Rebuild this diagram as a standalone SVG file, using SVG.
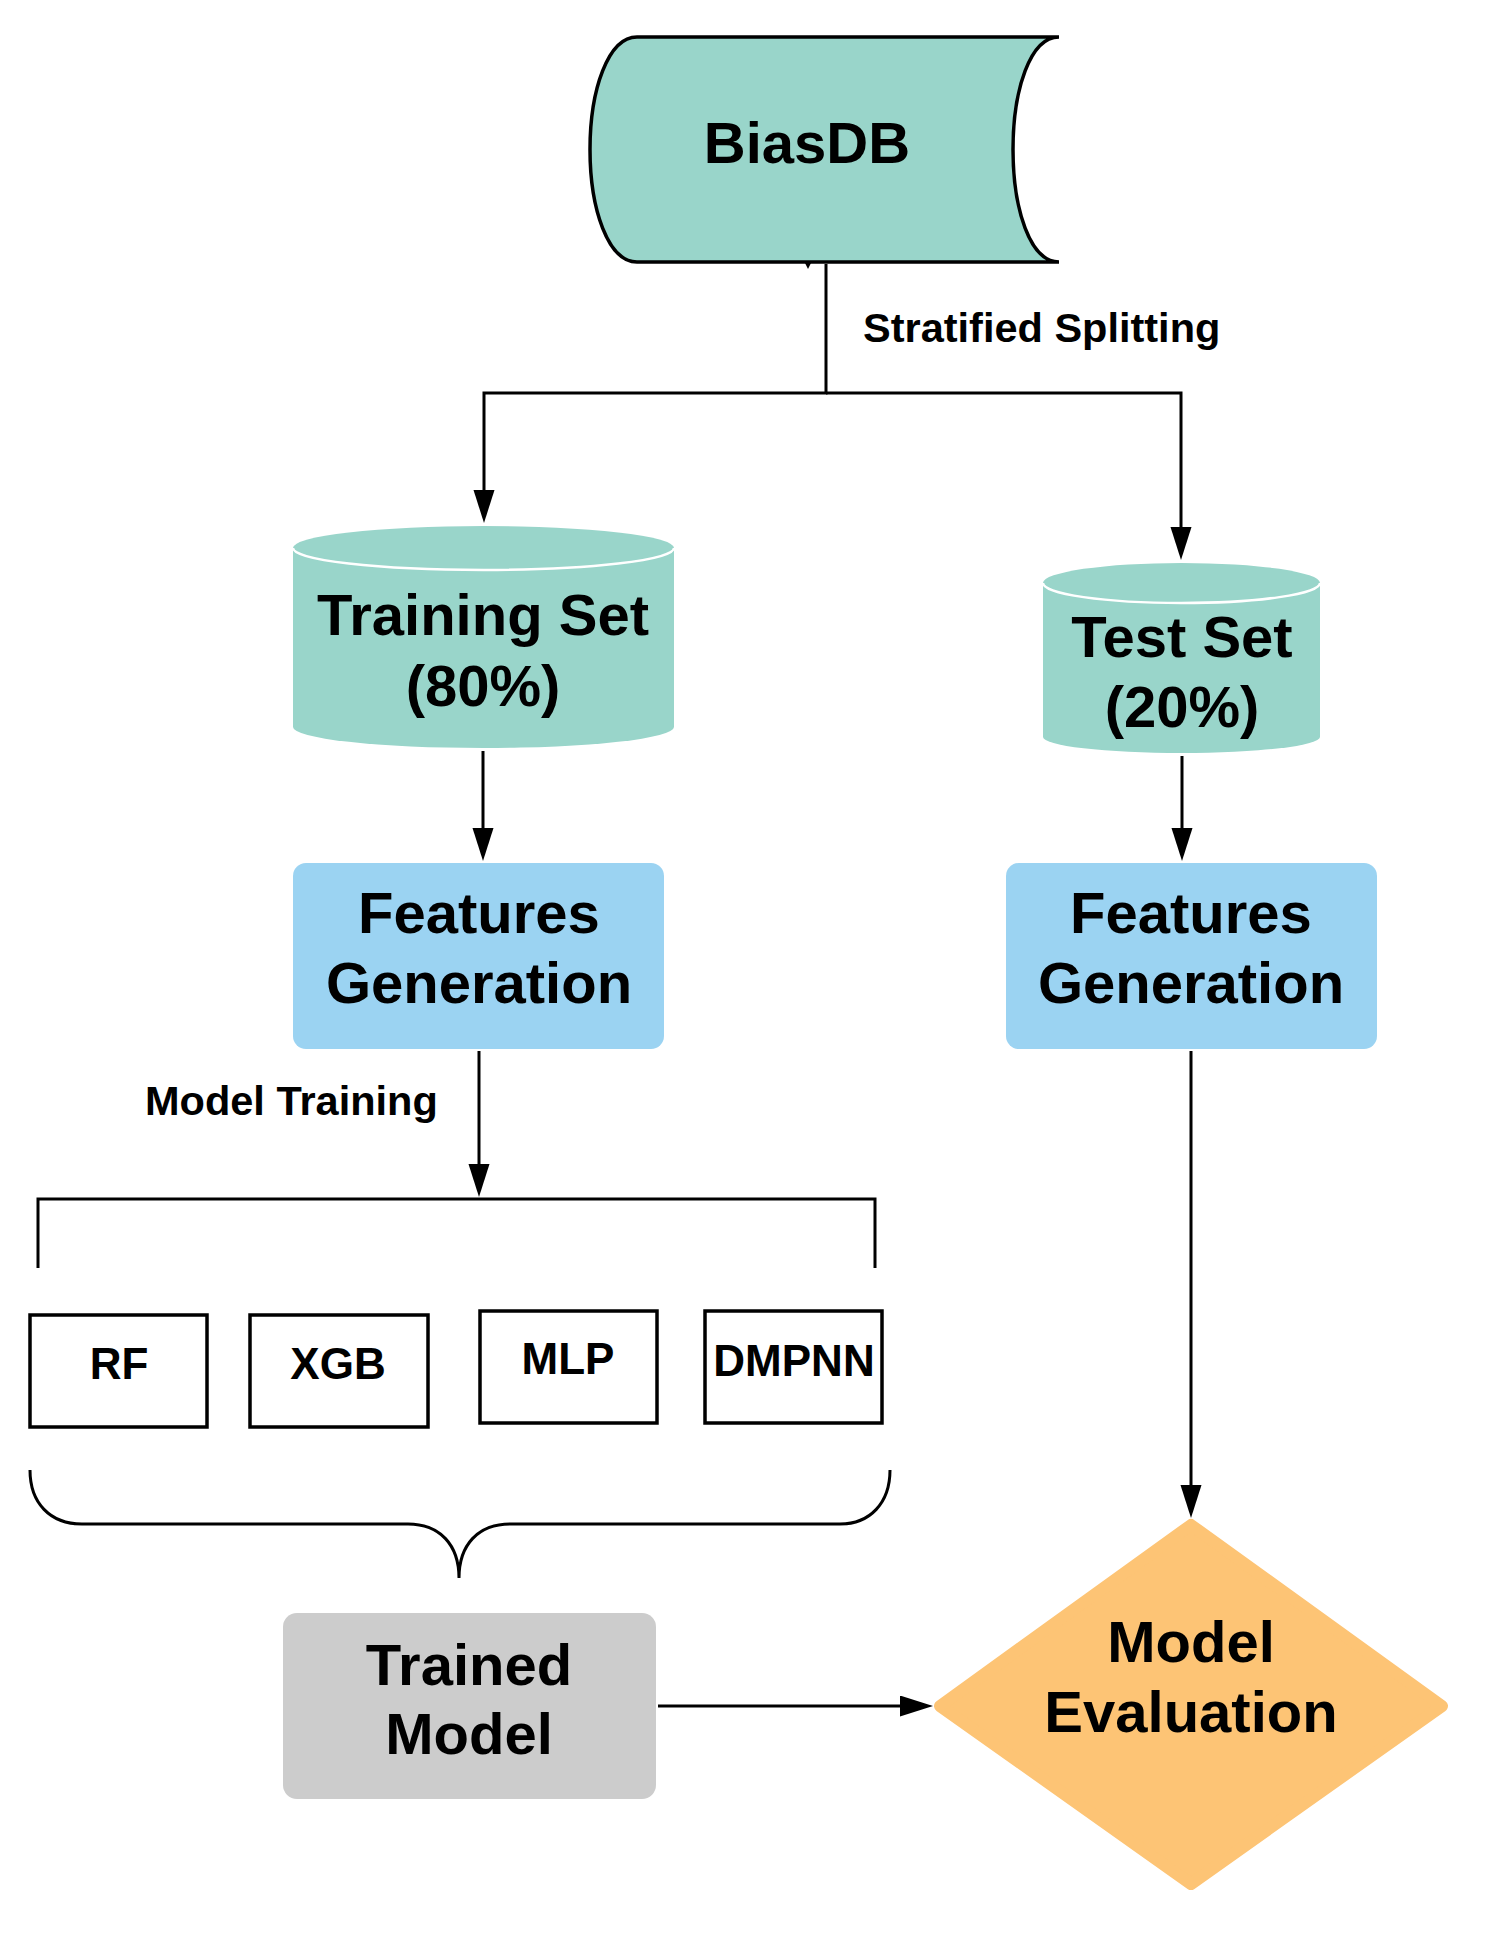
<svg xmlns="http://www.w3.org/2000/svg" width="1487" height="1937" viewBox="0 0 1487 1937">
  <defs>
    <style>
      .t { font-family: "Liberation Sans", Arial, sans-serif; font-weight: bold; fill: #000; text-anchor: middle; }
      .big { font-size: 58px; }
      .mid { font-size: 44px; }
      .lbl { font-size: 41.5px; text-anchor: start; }
      .conn { fill: none; stroke: #000; stroke-width: 3; }
      .box { fill: #fff; stroke: #000; stroke-width: 3.5; }
      .teal { fill: #99D5CA; }
    </style>
    <marker id="ah" markerUnits="userSpaceOnUse" markerWidth="34" markerHeight="22" refX="24" refY="10.5" orient="auto">
      <path d="M0,0 L33,10.5 L0,21 Z" fill="#000"/>
    </marker>
  </defs>
  <rect width="1487" height="1937" fill="#fff"/>

  <g id="connectors">
    <path class="conn" d="M 826 264 V 393 H 484 V 514" marker-end="url(#ah)"/>
    <path class="conn" d="M 826 393 H 1181 V 551" marker-end="url(#ah)"/>
    <path class="conn" d="M 483 751 V 852" marker-end="url(#ah)"/>
    <path class="conn" d="M 1182 756 V 852" marker-end="url(#ah)"/>
    <path class="conn" d="M 479 1051 V 1188" marker-end="url(#ah)"/>
    <path class="conn" d="M 1191 1051 V 1509" marker-end="url(#ah)"/>
    <path class="conn" d="M 658 1706 H 924" marker-end="url(#ah)"/>
    <path d="M 805 263 L 811 263 L 808 269 Z" fill="#000"/>
  </g>

  <g id="biasdb">
    <path d="M 637 37 L 1059 37 C 1030 37 1013 90 1013 149.5 C 1013 209 1030 262 1059 262 L 637 262 C 608 262 590 209 590 149.5 C 590 90 608 37 637 37 Z" fill="#99D5CA" stroke="#000" stroke-width="3.5"/>
    <text class="t big" x="807" y="163">BiasDB</text>
  </g>

  <g id="label-split">
    <text class="t lbl" x="863" y="342">Stratified Splitting</text>
  </g>

  <g id="training-set">
    <path class="teal" d="M 293 548 A 190.5 22 0 0 1 674 548 L 674 727 A 190.5 21 0 0 1 293 727 Z"/>
    <path d="M 293 548 A 190.5 22 0 0 0 674 548" fill="none" stroke="#fff" stroke-width="2.5"/>
    <text class="t big" x="483" y="635">Training Set</text>
    <text class="t big" x="483" y="706">(80%)</text>
  </g>

  <g id="test-set">
    <path class="teal" d="M 1043 583 A 138.5 20 0 0 1 1320 583 L 1320 737 A 138.5 16 0 0 1 1043 737 Z"/>
    <path d="M 1043 583 A 138.5 20 0 0 0 1320 583" fill="none" stroke="#fff" stroke-width="2.5"/>
    <text class="t big" x="1182" y="657">Test Set</text>
    <text class="t big" x="1182" y="727">(20%)</text>
  </g>

  <g id="features-left">
    <rect x="293" y="863" width="371" height="186" rx="13" fill="#9BD3F2"/>
    <text class="t big" x="479" y="933">Features</text>
    <text class="t big" x="479" y="1003">Generation</text>
  </g>

  <g id="features-right">
    <rect x="1006" y="863" width="371" height="186" rx="13" fill="#9BD3F2"/>
    <text class="t big" x="1191" y="933">Features</text>
    <text class="t big" x="1191" y="1003">Generation</text>
  </g>

  <g id="label-training">
    <text class="t lbl" x="145" y="1115">Model Training</text>
  </g>

  <g id="bracket">
    <path class="conn" stroke-width="3.5" d="M 38 1268 V 1199 H 875 V 1268"/>
  </g>

  <g id="rf">
    <rect class="box" x="30" y="1315" width="177" height="112"/>
    <text class="t mid" x="119" y="1379">RF</text>
  </g>
  <g id="xgb">
    <rect class="box" x="250" y="1315" width="178" height="112"/>
    <text class="t mid" x="338" y="1379">XGB</text>
  </g>
  <g id="mlp">
    <rect class="box" x="480" y="1311" width="177" height="112"/>
    <text class="t mid" x="568" y="1374">MLP</text>
  </g>
  <g id="dmpnn">
    <rect class="box" x="705" y="1311" width="177" height="112"/>
    <text class="t mid" x="794" y="1376">DMPNN</text>
  </g>

  <g id="brace">
    <path class="conn" stroke-width="3" d="M 30 1470 C 30 1503 50 1524 82 1524 L 408 1524 C 440 1524 459 1545 459 1578 C 459 1545 478 1524 510 1524 L 840 1524 C 870 1524 890 1503 890 1470"/>
  </g>

  <g id="trained-model">
    <rect x="283" y="1613" width="373" height="186" rx="14" fill="#CCCCCC"/>
    <text class="t big" x="469" y="1685">Trained</text>
    <text class="t big" x="469" y="1754">Model</text>
  </g>

  <g id="model-evaluation">
    <polygon points="1191,1525 1442,1706 1191,1884 940,1706" fill="#FDC475" stroke="#FDC475" stroke-width="12" stroke-linejoin="round"/>
    <text class="t big" x="1191" y="1662">Model</text>
    <text class="t big" x="1191" y="1732">Evaluation</text>
  </g>
</svg>
